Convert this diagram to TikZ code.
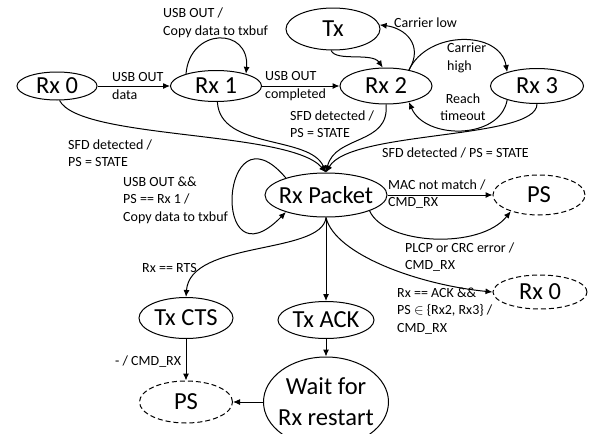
\documentclass[tikz,border=0pt]{standalone}
\usepackage{fontspec}
\setmainfont{Carlito}
\usetikzlibrary{shapes.geometric,arrows.meta}

\begin{document}
\begin{tikzpicture}[x=1pt,y=1pt,
  state/.style={ellipse,draw,line width=1pt,inner xsep=-12pt,inner ysep=-6pt,
    font=\fontsize{24.5}{31}\selectfont,align=center},
  prevstate/.style={state,dash pattern=on 5pt off 3pt},
  lbl/.style={anchor=west,align=left,inner sep=0pt,font=\fontsize{14}{17.5}\selectfont},
  trans/.style={line width=1pt,-{Latex[length=7pt,width=6pt]}}]
  \useasboundingbox (0,0) rectangle (595,-434);

  % states
  \node[state,minimum width=80pt,minimum height=28pt] (rx0) at (57,-86) {Rx 0};
  \node[state,minimum width=91pt,minimum height=31pt] (rx1) at (216,-86) {Rx 1};
  \node[state,minimum width=94pt,minimum height=42pt] (tx) at (333,-29) {Tx};
  \node[state,minimum width=92pt,minimum height=36pt] (rx2) at (386,-86) {Rx 2};
  \node[state,minimum width=93pt,minimum height=35pt] (rx3) at (537,-86) {Rx 3};
  \node[state,minimum width=122pt,minimum height=44pt] (pkt) at (326,-195) {Rx Packet};
  \node[prevstate,minimum width=92pt,minimum height=40pt] (psr) at (539,-195) {PS};
  \node[prevstate,minimum width=94pt,minimum height=34pt] (rx0d) at (540,-292) {Rx 0};
  \node[state,minimum width=94pt,minimum height=41pt] (cts) at (186,-318) {Tx CTS};
  \node[state,minimum width=96pt,minimum height=37pt] (ack) at (326,-320) {Tx ACK};
  \node[state,minimum width=125pt,minimum height=90pt] (wait) at (326,-402) {Wait for\\Rx restart};
  \node[prevstate,minimum width=93pt,minimum height=42pt] (psl) at (186,-402) {PS};

  % transitions
  \draw[trans] (rx0) -- (rx1);
  \draw[trans] (rx1.158) .. controls (190,-27) and (250,-27) .. (rx1.22);
  \draw[trans] (rx1) -- (rx2);
  \draw[trans] (tx.-95) .. controls (336,-62) and (372,-52) .. (rx2.100);
  \draw[trans] (rx2.35) .. controls (424,-45) and (405,-28) .. (tx.5);
  \draw[trans] (rx2.35) .. controls (428,-30) and (500,-30) .. (rx3.155);
  \draw[trans] (rx3.205) .. controls (500,-140) and (425,-140) .. (rx2.-35);
  \draw[trans] (rx0.-80) .. controls (80,-140) and (290,-130) .. (pkt.north);
  \draw[trans] (rx1.-85) .. controls (220,-150) and (310,-135) .. (pkt.north);
  \draw[trans] (rx2.-90) .. controls (390,-145) and (335,-135) .. (pkt.north);
  \draw[trans] (rx3.-90) .. controls (537,-140) and (350,-130) .. (pkt.north);
  \draw[trans] (pkt.157) .. controls (220,-100) and (210,-290) .. (pkt.203);
  \draw[trans] (pkt) -- (psr);
  \draw[trans] (pkt.-20) .. controls (385,-245) and (480,-250) .. (psr.210);
  \draw[trans] (pkt.south) .. controls (335,-255) and (420,-285) .. (rx0d.west);
  \draw[trans] (pkt.south) .. controls (322,-255) and (190,-240) .. (cts.north);
  \draw[trans] (pkt) -- (ack);
  \draw[trans] (ack) -- (wait);
  \draw[trans] (cts) -- (psl);
  \draw[trans] (wait) -- (psl);

  % labels
  \node[lbl] (l01) at (112,-86) {USB OUT\\data};
  \node[lbl] (l11) at (163,-23) {USB OUT /\\Copy data to txbuf};
  \node[lbl] (l12) at (265,-86) {USB OUT\\completed};
  \node[lbl] (lcl) at (394,-23) {Carrier low};
  \node[lbl] (lch) at (447,-58) {Carrier\\high};
  \node[lbl,anchor=center,align=center] (lrt) at (463,-107) {Reach\\timeout};
  \node[lbl] (lsfd0) at (68,-153) {SFD detected /\\PS = STATE};
  \node[lbl] (lsfd12) at (290,-124) {SFD detected /\\PS = STATE};
  \node[lbl] (lsfd3) at (382,-153) {SFD detected / PS = STATE};
  \node[lbl] (lloop) at (123,-200) {USB OUT \&\&\\PS == Rx 1 /\\Copy data to txbuf};
  \node[lbl] (lmac) at (388,-194) {MAC not match /\\CMD\_RX};
  \node[lbl] (lplcp) at (405,-257) {PLCP or CRC error /\\CMD\_RX};
  \node[lbl] (lack) at (397,-311) {Rx == ACK \&\&\\PS $\in$ \{Rx2, Rx3\} /\\CMD\_RX};
  \node[lbl] (lrts) at (142,-268) {Rx == RTS};
  \node[lbl] (lcts) at (115,-362) {- / CMD\_RX};
\end{tikzpicture}
\end{document}
